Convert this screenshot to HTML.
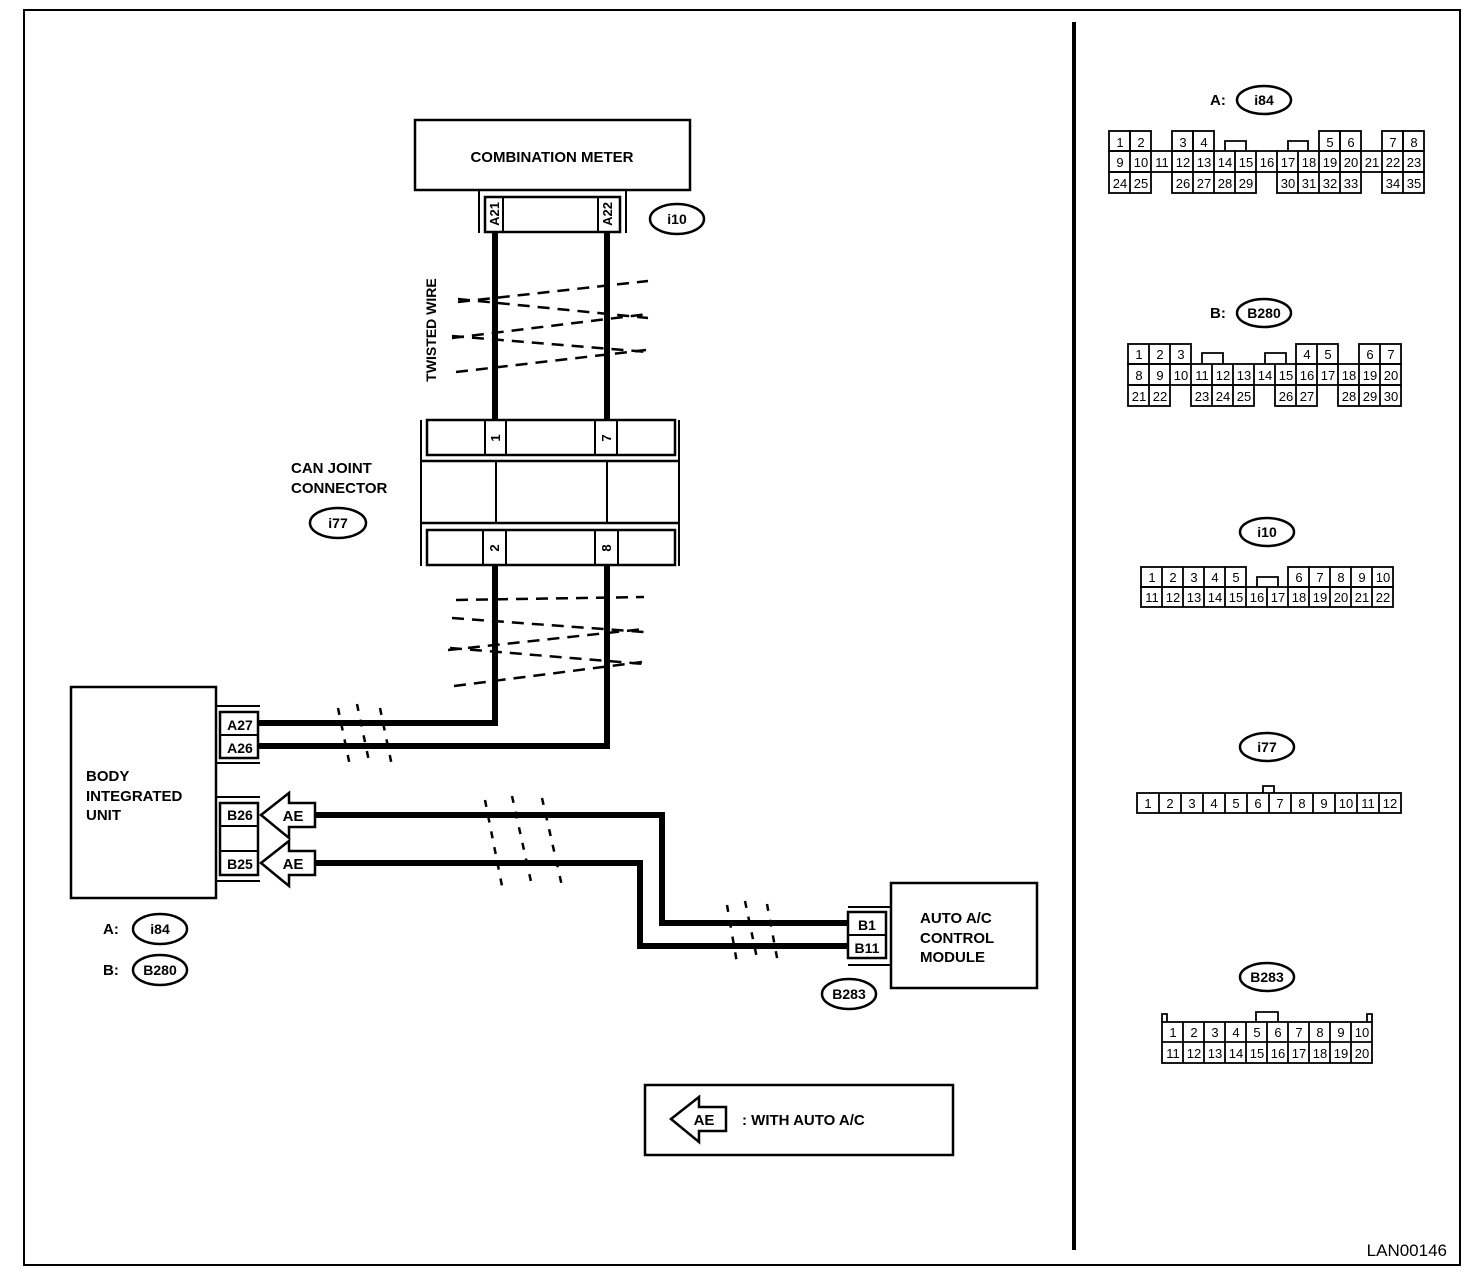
<!DOCTYPE html>
<html><head><meta charset="utf-8"><style>
html,body{margin:0;padding:0;background:#fff}
svg{display:block}
text{font-family:"Liberation Sans",sans-serif;fill:#000}
.b{font-weight:bold}
</style></head><body>
<svg width="1472" height="1274" viewBox="0 0 1472 1274" xmlns="http://www.w3.org/2000/svg">
<rect x="24" y="10" width="1436" height="1255" fill="none" stroke="#000" stroke-width="2"/>
<line x1="1074" y1="22" x2="1074" y2="1250" stroke="#000" stroke-width="4"/>

<!-- Combination meter -->
<rect x="415" y="120" width="275" height="70" fill="none" stroke="#000" stroke-width="2.5"/>
<text x="552" y="162" font-size="15" class="b" text-anchor="middle">COMBINATION METER</text>
<line x1="479" y1="190" x2="479" y2="233" stroke="#000" stroke-width="2"/>
<line x1="626" y1="190" x2="626" y2="233" stroke="#000" stroke-width="2"/>
<rect x="485" y="197" width="135" height="35" fill="none" stroke="#000" stroke-width="2.5"/>
<line x1="503" y1="197" x2="503" y2="232" stroke="#000" stroke-width="2"/>
<line x1="598" y1="197" x2="598" y2="232" stroke="#000" stroke-width="2"/>
<text transform="translate(499,214) rotate(-90)" font-size="13" class="b" text-anchor="middle">A21</text>
<text transform="translate(612,214) rotate(-90)" font-size="13" class="b" text-anchor="middle">A22</text>
<ellipse cx="677" cy="219" rx="27" ry="15" fill="none" stroke="#000" stroke-width="2.5"/>
<text x="677" y="224" font-size="14" class="b" text-anchor="middle">i10</text>

<!-- wires -->
<g stroke="#000" stroke-width="6" fill="none">
<line x1="495" y1="232" x2="495" y2="420"/>
<line x1="607" y1="232" x2="607" y2="420"/>
<polyline points="495,565 495,723 258,723"/>
<polyline points="607,565 607,746 258,746"/>
<polyline points="315,815 662,815 662,923 848,923"/>
<polyline points="315,863 640,863 640,946 848,946"/>
</g>
<g stroke="#000" stroke-width="2.5" stroke-dasharray="12,8" fill="none">
<line x1="458" y1="302" x2="648" y2="281"/>
<line x1="458" y1="299" x2="648" y2="318"/>
<line x1="452" y1="338" x2="648" y2="314"/>
<line x1="452" y1="336" x2="648" y2="352"/>
<line x1="456" y1="372" x2="646" y2="350"/>
<line x1="456" y1="600" x2="644" y2="597"/>
<line x1="452" y1="618" x2="644" y2="632"/>
<line x1="448" y1="650" x2="644" y2="629"/>
<line x1="450" y1="648" x2="644" y2="664"/>
<line x1="454" y1="686" x2="642" y2="662"/>
</g>
<text transform="translate(436,330) rotate(-90)" font-size="14" class="b" text-anchor="middle">TWISTED WIRE</text>

<!-- CAN joint -->
<line x1="421" y1="420" x2="421" y2="566" stroke="#000" stroke-width="2"/>
<line x1="679" y1="420" x2="679" y2="566" stroke="#000" stroke-width="2"/>
<rect x="427" y="420" width="248" height="35" fill="none" stroke="#000" stroke-width="2.5"/>
<line x1="485" y1="420" x2="485" y2="455" stroke="#000" stroke-width="2"/>
<line x1="506" y1="420" x2="506" y2="455" stroke="#000" stroke-width="2"/>
<line x1="595" y1="420" x2="595" y2="455" stroke="#000" stroke-width="2"/>
<line x1="617" y1="420" x2="617" y2="455" stroke="#000" stroke-width="2"/>
<line x1="421" y1="461" x2="679" y2="461" stroke="#000" stroke-width="2.5"/>
<line x1="421" y1="523" x2="679" y2="523" stroke="#000" stroke-width="2.5"/>
<line x1="496" y1="461" x2="496" y2="523" stroke="#000" stroke-width="2"/>
<line x1="607" y1="461" x2="607" y2="523" stroke="#000" stroke-width="2"/>
<rect x="427" y="530" width="248" height="35" fill="none" stroke="#000" stroke-width="2.5"/>
<line x1="483" y1="530" x2="483" y2="565" stroke="#000" stroke-width="2"/>
<line x1="506" y1="530" x2="506" y2="565" stroke="#000" stroke-width="2"/>
<line x1="595" y1="530" x2="595" y2="565" stroke="#000" stroke-width="2"/>
<line x1="618" y1="530" x2="618" y2="565" stroke="#000" stroke-width="2"/>
<text transform="translate(500,438) rotate(-90)" font-size="13" class="b" text-anchor="middle">1</text>
<text transform="translate(611,438) rotate(-90)" font-size="13" class="b" text-anchor="middle">7</text>
<text transform="translate(499,548) rotate(-90)" font-size="13" class="b" text-anchor="middle">2</text>
<text transform="translate(611,548) rotate(-90)" font-size="13" class="b" text-anchor="middle">8</text>
<text x="291" y="473" font-size="15" class="b">CAN JOINT</text>
<text x="291" y="493" font-size="15" class="b">CONNECTOR</text>
<ellipse cx="338" cy="523" rx="28" ry="15" fill="none" stroke="#000" stroke-width="2.5"/>
<text x="338" y="528" font-size="14" class="b" text-anchor="middle">i77</text>

<!-- Body integrated unit -->
<rect x="71" y="687" width="145" height="211" fill="none" stroke="#000" stroke-width="2.5"/>
<text x="86" y="781" font-size="15" class="b">BODY</text>
<text x="86" y="801" font-size="15" class="b">INTEGRATED</text>
<text x="86" y="820" font-size="15" class="b">UNIT</text>
<line x1="216" y1="706" x2="260" y2="706" stroke="#000" stroke-width="2"/>
<line x1="216" y1="763" x2="260" y2="763" stroke="#000" stroke-width="2"/>
<rect x="220" y="712" width="38" height="46" fill="none" stroke="#000" stroke-width="2.5"/>
<line x1="220" y1="735" x2="258" y2="735" stroke="#000" stroke-width="2"/>
<text x="240" y="730" font-size="14" class="b" text-anchor="middle">A27</text>
<text x="240" y="753" font-size="14" class="b" text-anchor="middle">A26</text>
<line x1="216" y1="797" x2="260" y2="797" stroke="#000" stroke-width="2"/>
<line x1="216" y1="881" x2="260" y2="881" stroke="#000" stroke-width="2"/>
<rect x="220" y="803" width="38" height="72" fill="none" stroke="#000" stroke-width="2.5"/>
<line x1="220" y1="826" x2="258" y2="826" stroke="#000" stroke-width="2"/>
<line x1="220" y1="851" x2="258" y2="851" stroke="#000" stroke-width="2"/>
<text x="240" y="820" font-size="14" class="b" text-anchor="middle">B26</text>
<text x="240" y="869" font-size="14" class="b" text-anchor="middle">B25</text>
<g fill="#fff" stroke="#000" stroke-width="2.5">
<polygon points="261,815 289,793 289,803 315,803 315,827 289,827 289,838"/>
<polygon points="261,863 289,841 289,851 315,851 315,875 289,875 289,886"/>
</g>
<text x="293" y="821" font-size="15" class="b" text-anchor="middle">AE</text>
<text x="293" y="869" font-size="15" class="b" text-anchor="middle">AE</text>
<text x="103" y="934" font-size="15" class="b">A:</text>
<ellipse cx="160" cy="929" rx="27" ry="15" fill="none" stroke="#000" stroke-width="2.5"/>
<text x="160" y="934" font-size="14" class="b" text-anchor="middle">i84</text>
<text x="103" y="975" font-size="15" class="b">B:</text>
<ellipse cx="160" cy="970" rx="27" ry="15" fill="none" stroke="#000" stroke-width="2.5"/>
<text x="160" y="975" font-size="14" class="b" text-anchor="middle">B280</text>

<!-- small crossing dashes -->
<g stroke="#000" stroke-width="2.5" stroke-dasharray="7,9" fill="none">
<line x1="338" y1="708" x2="350" y2="766"/>
<line x1="357" y1="704" x2="370" y2="766"/>
<line x1="380" y1="708" x2="392" y2="766"/>
<line x1="485" y1="800" x2="502" y2="886"/>
<line x1="512" y1="796" x2="532" y2="886"/>
<line x1="542" y1="798" x2="562" y2="886"/>
<line x1="727" y1="905" x2="737" y2="963"/>
<line x1="745" y1="901" x2="758" y2="963"/>
<line x1="767" y1="904" x2="778" y2="963"/>
</g>

<!-- Auto A/C -->
<rect x="891" y="883" width="146" height="105" fill="none" stroke="#000" stroke-width="2.5"/>
<text x="920" y="923" font-size="15" class="b">AUTO A/C</text>
<text x="920" y="943" font-size="15" class="b">CONTROL</text>
<text x="920" y="962" font-size="15" class="b">MODULE</text>
<line x1="848" y1="907" x2="891" y2="907" stroke="#000" stroke-width="2"/>
<line x1="848" y1="965" x2="891" y2="965" stroke="#000" stroke-width="2"/>
<rect x="848" y="912" width="38" height="46" fill="none" stroke="#000" stroke-width="2.5"/>
<line x1="848" y1="935" x2="886" y2="935" stroke="#000" stroke-width="2"/>
<text x="867" y="930" font-size="14" class="b" text-anchor="middle">B1</text>
<text x="867" y="953" font-size="14" class="b" text-anchor="middle">B11</text>
<ellipse cx="849" cy="994" rx="27" ry="15" fill="none" stroke="#000" stroke-width="2.5"/>
<text x="849" y="999" font-size="14" class="b" text-anchor="middle">B283</text>

<!-- legend -->
<rect x="645" y="1085" width="308" height="70" fill="none" stroke="#000" stroke-width="2.5"/>
<polygon points="671,1119 699,1097 699,1107 726,1107 726,1131 699,1131 699,1142" fill="#fff" stroke="#000" stroke-width="2.5"/>
<text x="704" y="1125" font-size="15" class="b" text-anchor="middle">AE</text>
<text x="742" y="1125" font-size="15" class="b">: WITH AUTO A/C</text>

<text x="1447" y="1256" font-size="17" text-anchor="end">LAN00146</text>

<!-- right side labels -->
<text x="1210" y="105" font-size="15" class="b">A:</text>
<ellipse cx="1264" cy="100" rx="27" ry="14" fill="none" stroke="#000" stroke-width="2.5"/>
<text x="1264" y="105" font-size="14" class="b" text-anchor="middle">i84</text>
<text x="1210" y="318" font-size="15" class="b">B:</text>
<ellipse cx="1264" cy="313" rx="27" ry="14" fill="none" stroke="#000" stroke-width="2.5"/>
<text x="1264" y="318" font-size="14" class="b" text-anchor="middle">B280</text>
<ellipse cx="1267" cy="532" rx="27" ry="14" fill="none" stroke="#000" stroke-width="2.5"/>
<text x="1267" y="537" font-size="14" class="b" text-anchor="middle">i10</text>
<ellipse cx="1267" cy="747" rx="27" ry="14" fill="none" stroke="#000" stroke-width="2.5"/>
<text x="1267" y="752" font-size="14" class="b" text-anchor="middle">i77</text>
<ellipse cx="1267" cy="977" rx="27" ry="14" fill="none" stroke="#000" stroke-width="2.5"/>
<text x="1267" y="982" font-size="14" class="b" text-anchor="middle">B283</text>

<!-- i84 connector -->
<g fill="none" stroke="#000" stroke-width="1.8">
<rect x="1109" y="131" width="21" height="20"/><rect x="1130" y="131" width="21" height="20"/>
<rect x="1172" y="131" width="21" height="20"/><rect x="1193" y="131" width="21" height="20"/>
<rect x="1319" y="131" width="21" height="20"/><rect x="1340" y="131" width="21" height="20"/>
<rect x="1382" y="131" width="21" height="20"/><rect x="1403" y="131" width="21" height="20"/>
<polyline points="1225,151 1225,141 1246,141 1246,151"/>
<polyline points="1288,151 1288,141 1308,141 1308,151"/>
<rect x="1109" y="151" width="315" height="21"/>
<path d="M1130 151V172M1151 151V172M1172 151V172M1193 151V172M1214 151V172M1235 151V172M1256 151V172M1277 151V172M1298 151V172M1319 151V172M1340 151V172M1361 151V172M1382 151V172M1403 151V172"/>
<rect x="1109" y="172" width="42" height="21"/><line x1="1130" y1="172" x2="1130" y2="193"/>
<rect x="1172" y="172" width="84" height="21"/><path d="M1193 172V193M1214 172V193M1235 172V193"/>
<rect x="1277" y="172" width="84" height="21"/><path d="M1298 172V193M1319 172V193M1340 172V193"/>
<rect x="1382" y="172" width="42" height="21"/><line x1="1403" y1="172" x2="1403" y2="193"/>
</g>
<g font-size="13" text-anchor="middle">
<text x="1120" y="147">1</text><text x="1141" y="147">2</text><text x="1183" y="147">3</text><text x="1204" y="147">4</text><text x="1330" y="147">5</text><text x="1351" y="147">6</text><text x="1393" y="147">7</text><text x="1414" y="147">8</text>
<text x="1120" y="167">9</text><text x="1141" y="167">10</text><text x="1162" y="167">11</text><text x="1183" y="167">12</text><text x="1204" y="167">13</text><text x="1225" y="167">14</text><text x="1246" y="167">15</text><text x="1267" y="167">16</text><text x="1288" y="167">17</text><text x="1309" y="167">18</text><text x="1330" y="167">19</text><text x="1351" y="167">20</text><text x="1372" y="167">21</text><text x="1393" y="167">22</text><text x="1414" y="167">23</text>
<text x="1120" y="188">24</text><text x="1141" y="188">25</text><text x="1183" y="188">26</text><text x="1204" y="188">27</text><text x="1225" y="188">28</text><text x="1246" y="188">29</text><text x="1288" y="188">30</text><text x="1309" y="188">31</text><text x="1330" y="188">32</text><text x="1351" y="188">33</text><text x="1393" y="188">34</text><text x="1414" y="188">35</text>
</g>

<!-- B280 connector -->
<g fill="none" stroke="#000" stroke-width="1.8">
<rect x="1128" y="344" width="63" height="20"/><path d="M1149 344V364M1170 344V364"/>
<rect x="1296" y="344" width="42" height="20"/><line x1="1317" y1="344" x2="1317" y2="364"/>
<rect x="1359" y="344" width="42" height="20"/><line x1="1380" y1="344" x2="1380" y2="364"/>
<polyline points="1202,364 1202,353 1223,353 1223,364"/>
<polyline points="1265,364 1265,353 1286,353 1286,364"/>
<rect x="1128" y="364" width="273" height="21"/>
<path d="M1149 364V385M1170 364V385M1191 364V385M1212 364V385M1233 364V385M1254 364V385M1275 364V385M1296 364V385M1317 364V385M1338 364V385M1359 364V385M1380 364V385"/>
<rect x="1128" y="385" width="42" height="21"/><line x1="1149" y1="385" x2="1149" y2="406"/>
<rect x="1191" y="385" width="63" height="21"/><path d="M1212 385V406M1233 385V406"/>
<rect x="1275" y="385" width="42" height="21"/><line x1="1296" y1="385" x2="1296" y2="406"/>
<rect x="1338" y="385" width="63" height="21"/><path d="M1359 385V406M1380 385V406"/>
</g>
<g font-size="13" text-anchor="middle">
<text x="1139" y="359">1</text><text x="1160" y="359">2</text><text x="1181" y="359">3</text><text x="1307" y="359">4</text><text x="1328" y="359">5</text><text x="1370" y="359">6</text><text x="1391" y="359">7</text>
<text x="1139" y="380">8</text><text x="1160" y="380">9</text><text x="1181" y="380">10</text><text x="1202" y="380">11</text><text x="1223" y="380">12</text><text x="1244" y="380">13</text><text x="1265" y="380">14</text><text x="1286" y="380">15</text><text x="1307" y="380">16</text><text x="1328" y="380">17</text><text x="1349" y="380">18</text><text x="1370" y="380">19</text><text x="1391" y="380">20</text>
<text x="1139" y="401">21</text><text x="1160" y="401">22</text><text x="1202" y="401">23</text><text x="1223" y="401">24</text><text x="1244" y="401">25</text><text x="1286" y="401">26</text><text x="1307" y="401">27</text><text x="1349" y="401">28</text><text x="1370" y="401">29</text><text x="1391" y="401">30</text>
</g>

<!-- i10 connector -->
<g fill="none" stroke="#000" stroke-width="1.8">
<rect x="1141" y="567" width="105" height="20"/><path d="M1162 567V587M1183 567V587M1204 567V587M1225 567V587"/>
<rect x="1288" y="567" width="105" height="20"/><path d="M1309 567V587M1330 567V587M1351 567V587M1372 567V587"/>
<polyline points="1257,587 1257,577 1278,577 1278,587"/>
<rect x="1141" y="587" width="252" height="20"/>
<path d="M1162 587V607M1183 587V607M1204 587V607M1225 587V607M1246 587V607M1267 587V607M1288 587V607M1309 587V607M1330 587V607M1351 587V607M1372 587V607"/>
</g>
<g font-size="13" text-anchor="middle">
<text x="1152" y="582">1</text><text x="1173" y="582">2</text><text x="1194" y="582">3</text><text x="1215" y="582">4</text><text x="1236" y="582">5</text><text x="1299" y="582">6</text><text x="1320" y="582">7</text><text x="1341" y="582">8</text><text x="1362" y="582">9</text><text x="1383" y="582">10</text>
<text x="1152" y="602">11</text><text x="1173" y="602">12</text><text x="1194" y="602">13</text><text x="1215" y="602">14</text><text x="1236" y="602">15</text><text x="1257" y="602">16</text><text x="1278" y="602">17</text><text x="1299" y="602">18</text><text x="1320" y="602">19</text><text x="1341" y="602">20</text><text x="1362" y="602">21</text><text x="1383" y="602">22</text>
</g>

<!-- i77 connector -->
<g fill="none" stroke="#000" stroke-width="1.8">
<rect x="1137" y="793" width="264" height="20"/>
<path d="M1159 793V813M1181 793V813M1203 793V813M1225 793V813M1247 793V813M1269 793V813M1291 793V813M1313 793V813M1335 793V813M1357 793V813M1379 793V813"/>
<polyline points="1263,793 1263,786 1274,786 1274,793"/>
</g>
<g font-size="13" text-anchor="middle">
<text x="1148" y="808">1</text><text x="1170" y="808">2</text><text x="1192" y="808">3</text><text x="1214" y="808">4</text><text x="1236" y="808">5</text><text x="1258" y="808">6</text><text x="1280" y="808">7</text><text x="1302" y="808">8</text><text x="1324" y="808">9</text><text x="1346" y="808">10</text><text x="1368" y="808">11</text><text x="1390" y="808">12</text>
</g>

<!-- B283 connector -->
<g fill="none" stroke="#000" stroke-width="1.8">
<rect x="1162" y="1022" width="210" height="41"/>
<line x1="1162" y1="1042" x2="1372" y2="1042"/>
<path d="M1183 1022V1063M1204 1022V1063M1225 1022V1063M1246 1022V1063M1267 1022V1063M1288 1022V1063M1309 1022V1063M1330 1022V1063M1351 1022V1063"/>
<polyline points="1162,1022 1162,1014 1167,1014 1167,1022"/>
<polyline points="1367,1022 1367,1014 1372,1014 1372,1022"/>
<polyline points="1256,1022 1256,1012 1278,1012 1278,1022"/>
</g>
<g font-size="13" text-anchor="middle">
<text x="1173" y="1037">1</text><text x="1194" y="1037">2</text><text x="1215" y="1037">3</text><text x="1236" y="1037">4</text><text x="1257" y="1037">5</text><text x="1278" y="1037">6</text><text x="1299" y="1037">7</text><text x="1320" y="1037">8</text><text x="1341" y="1037">9</text><text x="1362" y="1037">10</text>
<text x="1173" y="1058">11</text><text x="1194" y="1058">12</text><text x="1215" y="1058">13</text><text x="1236" y="1058">14</text><text x="1257" y="1058">15</text><text x="1278" y="1058">16</text><text x="1299" y="1058">17</text><text x="1320" y="1058">18</text><text x="1341" y="1058">19</text><text x="1362" y="1058">20</text>
</g>
</svg>
</body></html>
